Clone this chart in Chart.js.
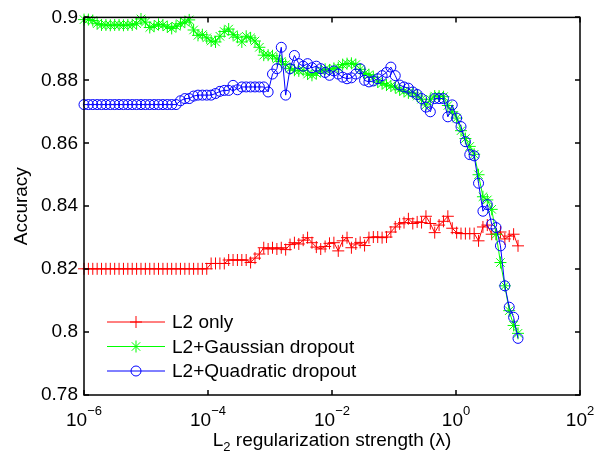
<!DOCTYPE html>
<html>
<head>
<meta charset="utf-8">
<script src="https://cdn.jsdelivr.net/npm/chart.js@4.4.1/dist/chart.umd.min.js"></script>
<style>
  html, body { margin: 0; padding: 0; background: #fff; }
  #wrap { width: 602px; height: 454px; }
</style>
</head>
<body>
<div id="wrap"><canvas id="canvas" width="602" height="454"></canvas></div>
<script>
// lambda grid: 100 log-spaced values from 1e-6 to 1e1
var lambdas = [];
for (var i = 0; i < 100; i++) lambdas.push(Math.pow(10, -6 + 7 * i / 99));

var l2Only = [
  0.8201, 0.8201, 0.8201, 0.8201, 0.8201, 0.8201, 0.8201, 0.8201, 0.8201, 0.8201,
  0.8201, 0.8201, 0.8201, 0.8201, 0.8201, 0.8201, 0.8201, 0.8201, 0.8201, 0.8201,
  0.8201, 0.8201, 0.8201, 0.8201, 0.8201, 0.8201, 0.8201, 0.8201, 0.8201, 0.8218,
  0.8218, 0.8218, 0.8218, 0.8229, 0.8229, 0.8229, 0.8229, 0.8229, 0.8221, 0.8235,
  0.8248, 0.8268, 0.8264, 0.8268, 0.8264, 0.8268, 0.8262, 0.8278, 0.8284, 0.8280,
  0.8292, 0.8300, 0.8284, 0.8270, 0.8264, 0.8272, 0.8282, 0.8284, 0.8258, 0.8290,
  0.8300, 0.8268, 0.8280, 0.8285, 0.8275, 0.8300, 0.8302, 0.8302, 0.8300, 0.8302,
  0.8318, 0.8334, 0.8344, 0.8348, 0.8360, 0.8345, 0.8350, 0.8348, 0.8368, 0.8345,
  0.8316, 0.8340, 0.8352, 0.8368, 0.8330, 0.8316, 0.8313, 0.8313, 0.8313, 0.8313,
  0.8290, 0.8334, 0.8340, 0.8311, 0.8311, 0.8318, 0.8296, 0.8305, 0.8311, 0.8274
];

var gaussian = [
  0.8993, 0.8993, 0.8990, 0.8980, 0.8976, 0.8976, 0.8975, 0.8976, 0.8976, 0.8975,
  0.8976, 0.8976, 0.8980, 0.8995, 0.8985, 0.8968, 0.8972, 0.8978, 0.8976, 0.8970,
  0.8965, 0.8972, 0.8980, 0.8985, 0.8992, 0.8960, 0.8943, 0.8945, 0.8935, 0.8925,
  0.8922, 0.8940, 0.8955, 0.8963, 0.8945, 0.8937, 0.8922, 0.8940, 0.8935, 0.8925,
  0.8905, 0.8880, 0.8880, 0.8878, 0.8868, 0.8860, 0.8850, 0.8838, 0.8832, 0.8830,
  0.8832, 0.8820, 0.8816, 0.8822, 0.8830, 0.8835, 0.8833, 0.8838, 0.8840, 0.8850,
  0.8853, 0.8854, 0.8850, 0.8835, 0.8822, 0.8818, 0.8810, 0.8795, 0.8790, 0.8785,
  0.8782, 0.8778, 0.8770, 0.8765, 0.8760, 0.8760, 0.8750, 0.8740, 0.8722, 0.8740,
  0.8750, 0.8750, 0.8748, 0.8720, 0.8700, 0.8680, 0.8640, 0.8615, 0.8590, 0.8565,
  0.8500, 0.8430, 0.8420, 0.8390, 0.8311, 0.8221, 0.8147, 0.8068, 0.8021, 0.7996
];

var quadratic = [
  0.8723, 0.8723, 0.8723, 0.8723, 0.8723, 0.8723, 0.8723, 0.8723, 0.8723, 0.8723,
  0.8723, 0.8723, 0.8723, 0.8723, 0.8723, 0.8723, 0.8723, 0.8723, 0.8723, 0.8723,
  0.8723, 0.8723, 0.8735, 0.8742, 0.8742, 0.8750, 0.8753, 0.8753, 0.8753, 0.8753,
  0.8758, 0.8765, 0.8768, 0.8768, 0.8784, 0.8770, 0.8779, 0.8779, 0.8779, 0.8779,
  0.8779, 0.8779, 0.8763, 0.8820, 0.8837, 0.8905, 0.8753, 0.8837, 0.8879, 0.8853,
  0.8845, 0.8853, 0.8840, 0.8845, 0.8837, 0.8825, 0.8816, 0.8830, 0.8820, 0.8810,
  0.8805, 0.8808, 0.8820, 0.8837, 0.8800, 0.8795, 0.8798, 0.8805, 0.8815, 0.8825,
  0.8842, 0.8815, 0.8785, 0.8779, 0.8775, 0.8763, 0.8755, 0.8742, 0.8715, 0.8700,
  0.8742, 0.8742, 0.8742, 0.8684, 0.8722, 0.8680, 0.8653, 0.8605, 0.8564, 0.8560,
  0.8473, 0.8384, 0.8405, 0.8343, 0.8332, 0.8274, 0.8147, 0.8079, 0.8047, 0.7980
];

var seriesNames = ['L2 only', 'L2+Gaussian dropout', 'L2+Quadratic dropout'];
var xTicks = [1e-6, 1e-4, 1e-2, 1e0, 1e2];
var xTickExp = ['\u22126', '\u22124', '\u22122', '0', '2'];
var yTicks = [0.78, 0.8, 0.82, 0.84, 0.86, 0.88, 0.9];

var FONT = '"Liberation Sans", Arial, Helvetica, sans-serif';
var FS = 19;

function pts(values) {
    return values.map(function (v, k) { return {x: lambdas[k], y: v}; });
}

var styles = [
    {color: '#ff0000', pointStyle: 'cross', radius: 6},
    {color: '#00ff00', pointStyle: 'star', radius: 6},
    {color: '#0000ff', pointStyle: 'circle', radius: 5}
];

// box, inward ticks, x labels, titles and legend (matlab look)
var frame = {
    id: 'frame',
    afterDraw: function (chart) {
        var ctx = chart.ctx, a = chart.chartArea,
            sx = chart.scales.x, sy = chart.scales.y;
        ctx.save();
        ctx.strokeStyle = '#000';
        ctx.lineWidth = 1.5;
        ctx.beginPath();
        xTicks.forEach(function (v) {
            var px = Math.round(sx.getPixelForValue(v));
            ctx.moveTo(px, a.bottom); ctx.lineTo(px, a.bottom - 5);
            ctx.moveTo(px, a.top); ctx.lineTo(px, a.top + 5);
        });
        yTicks.forEach(function (v) {
            var py = Math.round(sy.getPixelForValue(v));
            ctx.moveTo(a.left, py); ctx.lineTo(a.left + 5, py);
            ctx.moveTo(a.right, py); ctx.lineTo(a.right - 5, py);
        });
        ctx.stroke();
        ctx.strokeRect(a.left, a.top, a.right - a.left, a.bottom - a.top);

        ctx.fillStyle = '#000';
        ctx.textBaseline = 'alphabetic';
        // x tick labels 10^n
        var small = Math.round(FS * 0.7) + 'px ' + FONT;
        xTicks.forEach(function (v, k) {
            var px = sx.getPixelForValue(v);
            ctx.font = FS + 'px ' + FONT;
            var w1 = ctx.measureText('10').width;
            ctx.font = small;
            var w2 = ctx.measureText(xTickExp[k]).width;
            var x0 = px - (w1 + w2) / 2;
            ctx.font = FS + 'px ' + FONT;
            ctx.fillText('10', x0, a.bottom + 31);
            ctx.font = small;
            ctx.fillText(xTickExp[k], x0 + w1, a.bottom + 20);
        });

        // x title with subscript
        ctx.font = FS + 'px ' + FONT;
        var t1 = 'L', t3 = ' regularization strength (\u03bb)';
        var wL = ctx.measureText(t1).width, w3 = ctx.measureText(t3).width;
        ctx.font = small;
        var w2s = ctx.measureText('2').width;
        var cx = (a.left + a.right) / 2;
        var xs = cx - (wL + w2s + w3) / 2;
        ctx.font = FS + 'px ' + FONT;
        ctx.fillText(t1, xs, a.bottom + 51);
        ctx.fillText(t3, xs + wL + w2s, a.bottom + 51);
        ctx.font = small;
        ctx.fillText('2', xs + wL, a.bottom + 56);

        // y title
        ctx.save();
        ctx.translate(22, (a.top + a.bottom) / 2);
        ctx.rotate(-Math.PI / 2);
        ctx.font = FS + 'px ' + FONT;
        ctx.textAlign = 'center';
        ctx.textBaseline = 'middle';
        ctx.fillText('Accuracy', 0, 0);
        ctx.restore();

        // legend
        ctx.font = FS + 'px ' + FONT;
        ctx.textBaseline = 'middle';
        ctx.textAlign = 'left';
        seriesNames.forEach(function (name, k) {
            var ly = 322 + k * 24.5, st = styles[k];
            ctx.strokeStyle = st.color;
            ctx.fillStyle = 'rgba(0,0,0,0)';
            ctx.lineWidth = 1;
            ctx.beginPath();
            ctx.moveTo(107, ly); ctx.lineTo(165, ly);
            ctx.stroke();
            Chart.helpers.drawPoint(ctx, {
                pointStyle: st.pointStyle, radius: st.radius, rotation: 0, borderWidth: 1
            }, 136, ly);
            ctx.fillStyle = '#000';
            ctx.fillText(name, 172, ly + 1);
        });
        ctx.restore();
    }
};

var datasets = [l2Only, gaussian, quadratic].map(function (vals, k) {
    var st = styles[k];
    return {
        label: seriesNames[k],
        data: pts(vals),
        borderColor: st.color,
        backgroundColor: 'rgba(0,0,0,0)',
        borderWidth: 1,
        pointStyle: st.pointStyle,
        pointRadius: st.radius,
        pointBorderWidth: 1,
        pointBorderColor: st.color,
        pointBackgroundColor: 'rgba(0,0,0,0)',
        tension: 0,
        fill: false,
        clip: false,
        order: 3 - k
    };
});

new Chart(document.getElementById('canvas').getContext('2d'), {
    type: 'line',
    data: {datasets: datasets},
    options: {
        responsive: false,
        animation: false,
        devicePixelRatio: 1,
        layout: {padding: {left: 0, right: 22, top: 15, bottom: 0}},
        plugins: {legend: {display: false}, tooltip: {enabled: false}},
        scales: {
            x: {
                type: 'logarithmic',
                min: 1e-6,
                max: 1e2,
                grid: {display: false},
                border: {display: false},
                ticks: {display: false},
                afterFit: function (s) { s.height = 59; }
            },
            y: {
                type: 'linear',
                min: 0.78,
                max: 0.9,
                grid: {display: false, drawTicks: false},
                border: {display: false},
                ticks: {
                    stepSize: 0.02,
                    padding: 6,
                    color: '#000',
                    font: {family: FONT, size: FS},
                    callback: function (v) { return String(+v.toFixed(2)); }
                },
                afterFit: function (s) { s.width = 84; }
            }
        }
    },
    plugins: [frame]
});
</script>
</body>
</html>
